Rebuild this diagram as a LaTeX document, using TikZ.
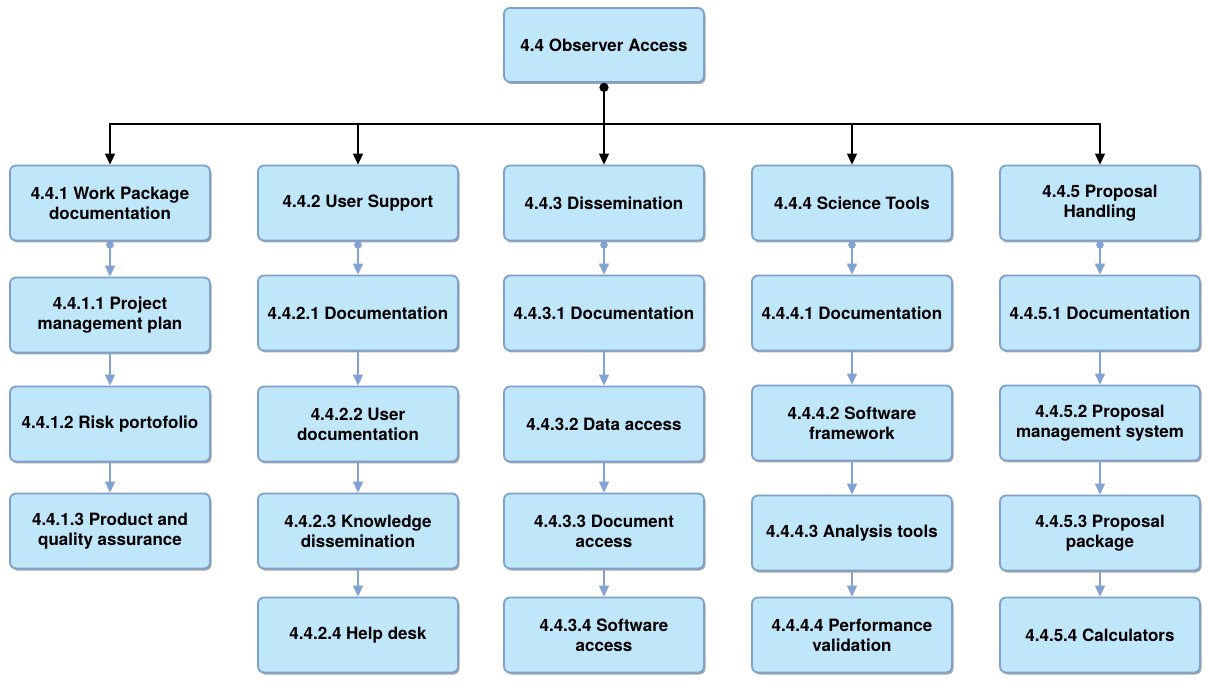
\documentclass[tikz,border=0pt]{standalone}
\usepackage{fontspec}
\setmainfont{TeX Gyre Heros}
\usetikzlibrary{arrows.meta,shadows,positioning}
\definecolor{boxfill}{RGB}{192,230,250}
\definecolor{boxline}{RGB}{125,160,205}
\definecolor{arrowblue}{RGB}{128,162,212}
\begin{document}
\begin{tikzpicture}[x=1pt,y=-1pt,
  wbox/.style={draw=boxline,fill=boxfill,line width=1.8pt,rounded corners=6pt,
    minimum width=200pt,minimum height=75pt,align=center,
    font=\fontsize{17}{20}\selectfont\bfseries,
    drop shadow={shadow xshift=1.5pt,shadow yshift=-2pt,opacity=0.35,fill=black}},
  toparrow/.style={draw=black,line width=1.2pt,-{Triangle[length=11pt,width=10pt]}},
  childarrow/.style={draw=arrowblue,line width=1.6pt,-{Triangle[length=11pt,width=10pt]}},
  bluedot/.style={fill=arrowblue}
]
\useasboundingbox (0,0) rectangle (1208,684);

\node[wbox,minimum height=74pt] (top) at (604,45) {4.4 Observer Access};

% level 1
\node[wbox] (a) at (110,203) {4.4.1 Work Package\\documentation};
\node[wbox] (b) at (358,203) {4.4.2 User Support};
\node[wbox] (c) at (604,203) {4.4.3 Dissemination};
\node[wbox] (d) at (852,203) {4.4.4 Science Tools};
\node[wbox] (e) at (1100,203) {4.4.5 Proposal\\Handling};

% column 1
\node[wbox] (a1) at (110,315) {4.4.1.1 Project\\management plan};
\node[wbox] (a2) at (110,424) {4.4.1.2 Risk portofolio};
\node[wbox] (a3) at (110,531) {4.4.1.3 Product and\\quality assurance};

% column 2
\node[wbox] (b1) at (358,313) {4.4.2.1 Documentation};
\node[wbox] (b2) at (358,424) {4.4.2.2 User\\documentation};
\node[wbox] (b3) at (358,531) {4.4.2.3 Knowledge\\dissemination};
\node[wbox] (b4) at (358,635) {4.4.2.4 Help desk};

% column 3
\node[wbox] (c1) at (604,313) {4.4.3.1 Documentation};
\node[wbox] (c2) at (604,424) {4.4.3.2 Data access};
\node[wbox] (c3) at (604,531) {4.4.3.3 Document\\access};
\node[wbox] (c4) at (604,635) {4.4.3.4 Software\\access};

% column 4
\node[wbox] (d1) at (852,313) {4.4.4.1 Documentation};
\node[wbox] (d2) at (852,423) {4.4.4.2 Software\\framework};
\node[wbox] (d3) at (852,533) {4.4.4.3 Analysis tools};
\node[wbox] (d4) at (852,635) {4.4.4.4 Performance\\validation};

% column 5
\node[wbox] (e1) at (1100,313) {4.4.5.1 Documentation};
\node[wbox] (e2) at (1100,423) {4.4.5.2 Proposal\\management system};
\node[wbox] (e3) at (1100,533) {4.4.5.3 Proposal\\package};
\node[wbox] (e4) at (1100,635) {4.4.5.4 Calculators};

% top connectors
\coordinate (bar) at (604,124);
\draw[black,line width=1.2pt] (top.south) -- (bar);
\fill[black] ([yshift=-4.5pt]top.south) circle (4.6);
\foreach \n in {a,b,c,d,e}
  \draw[toparrow] (bar) -| (\n.north);

% child connectors
\foreach \n in {a,b,c,d,e}{
  \draw[childarrow] (\n.south) -- (\n1.north);
  \fill[bluedot] ([yshift=-3.5pt]\n.south) circle (3.8);
}
\draw[childarrow] (a1.south) -- (a2.north);
\draw[childarrow] (a2.south) -- (a3.north);
\foreach \n in {b,c,d,e}{
  \draw[childarrow] (\n1.south) -- (\n2.north);
  \draw[childarrow] (\n2.south) -- (\n3.north);
  \draw[childarrow] (\n3.south) -- (\n4.north);
}
\end{tikzpicture}
\end{document}
